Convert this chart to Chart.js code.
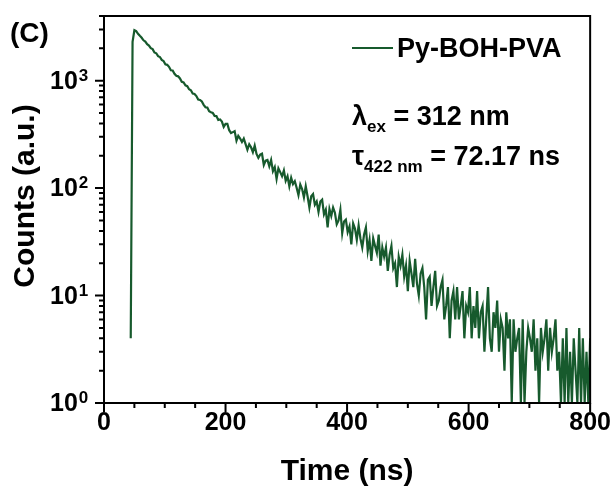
<!DOCTYPE html>
<html>
<head>
    <title>Py-BOH-PVA decay</title>
    <meta charset="UTF-8">
    <style>
        body { margin: 0; padding: 0; background: #fff; }
        #chart-container { width: 616px; height: 493px; }
        canvas { background-color: #fff; }
    </style>
</head>
<body>
    <div id="chart-container">
        <canvas id="decayChart" width="616" height="493"></canvas>
    </div>

    <script src="https://cdn.jsdelivr.net/npm/chart.js"></script>

    <script>
        // time channels (ns)
        const times = [
            44, 47, 50, 53, 56, 59, 62, 65, 68, 71,
            74, 77, 80, 83, 86, 89, 92, 95, 98, 101,
            104, 107, 110, 113, 116, 119, 122, 125, 128, 131,
            134, 137, 140, 143, 146, 149, 152, 155, 158, 161,
            164, 167, 170, 173, 176, 179, 182, 185, 188, 191,
            194, 197, 200, 203, 206, 209, 212, 215, 218, 221,
            224, 227, 230, 233, 236, 239, 242, 245, 248, 251,
            254, 257, 260, 263, 266, 269, 272, 275, 278, 281,
            284, 287, 290, 293, 296, 299, 302, 305, 308, 311,
            314, 317, 320, 323, 326, 329, 332, 335, 338, 341,
            344, 347, 350, 353, 356, 359, 362, 365, 368, 371,
            374, 377, 380, 383, 386, 389, 392, 395, 398, 401,
            404, 407, 410, 413, 416, 419, 422, 425, 428, 431,
            434, 437, 440, 443, 446, 449, 452, 455, 458, 461,
            464, 467, 470, 473, 476, 479, 482, 485, 488, 491,
            494, 497, 500, 503, 506, 509, 512, 515, 518, 521,
            524, 527, 530, 533, 536, 539, 542, 545, 548, 551,
            554, 557, 560, 563, 566, 569, 572, 575, 578, 581,
            584, 587, 590, 593, 596, 599, 602, 605, 608, 611,
            614, 617, 620, 623, 626, 629, 632, 635, 638, 641,
            644, 647, 650, 653, 656, 659, 662, 665, 668, 671,
            674, 677, 680, 683, 686, 689, 692, 695, 698, 701,
            704, 707, 710, 713, 716, 719, 722, 725, 728, 731,
            734, 737, 740, 743, 746, 749, 752, 755, 758, 761,
            764, 767, 770, 773, 776, 779, 782, 785, 788, 791,
            794, 797, 800
        ];

        // counts
        const counts = [
            4, 2300, 2950, 2890, 2730, 2615, 2510, 2375, 2310, 2185,
            2125, 2010, 1965, 1830, 1800, 1690, 1660, 1560, 1525, 1420,
            1405, 1345, 1250, 1245, 1160, 1110, 1098, 1050, 975, 962,
            905, 890, 832, 815, 758, 752, 720, 668, 662, 640,
            596, 566, 562, 520, 509, 502, 470, 468, 431, 436,
            416, 371, 396, 396, 346, 325, 332, 339, 276, 307,
            290, 269, 289, 257, 228, 256, 240, 216, 249, 208,
            191, 205, 209, 164, 180, 183, 160, 183, 144, 157,
            122, 153, 141, 129, 146, 117, 129, 104, 125, 109,
            116, 101, 86, 108, 98, 82, 104, 84, 66, 84,
            88, 70, 75, 60, 75, 78, 57, 63, 43, 64,
            55, 66, 59, 46, 50, 63, 38, 49, 51, 39,
            44, 30, 47, 42, 33, 45, 34, 28, 37, 43,
            26, 33, 21, 34, 29, 25, 37, 19, 28, 23,
            28, 17, 24, 29, 18, 20, 12, 23, 19, 24,
            15, 19, 11, 21, 16, 12, 22, 13, 10, 16,
            18, 12, 6, 14, 15, 8, 12, 17, 8, 9,
            12, 14, 6, 8, 12, 4, 9, 11, 6, 12,
            6, 8, 11, 4, 8, 7, 12, 4, 8, 5,
            11, 4, 7, 8, 3, 6, 12, 4, 3, 7,
            5, 9, 3, 6, 5, 2, 7, 4, 6, 1,
            6, 3, 4, 5, 1, 6, 1, 3, 5, 4,
            3, 6, 2, 4, 1, 5, 3, 4, 6, 2,
            5, 3, 4, 6, 2, 3, 1, 4, 1, 5,
            1, 3, 1, 4, 2, 1, 5, 1, 4, 1,
            3, 1, 4
        ];

        const seriesLabel = 'Py-BOH-PVA';
        const xMajorTicks = [0, 200, 400, 600, 800];
        const xMinorTicks = [50, 100, 150, 250, 300, 350, 450, 500, 550, 650, 700, 750];
        const yDecades = [1, 10, 100, 1000];
        const yMin = 1;
        const yMax = 4000;

        const FONT = 'Arial, "Liberation Sans", sans-serif';
        const GREEN = '#175a2d';

        // frame, tick marks, log labels, legend and notes
        const decor = {
            id: 'decor',
            afterDraw(chart) {
                const { ctx, chartArea: area, scales: { x, y } } = chart;
                ctx.save();
                ctx.strokeStyle = '#000';
                ctx.lineWidth = 2;
                ctx.strokeRect(area.left, area.top, area.right - area.left, area.bottom - area.top);

                ctx.beginPath();
                xMajorTicks.forEach(v => {
                    const px = x.getPixelForValue(v);
                    ctx.moveTo(px, area.bottom);
                    ctx.lineTo(px, area.bottom + 9);
                });
                xMinorTicks.forEach(v => {
                    const px = x.getPixelForValue(v);
                    ctx.moveTo(px, area.bottom);
                    ctx.lineTo(px, area.bottom + 5);
                });
                yDecades.forEach(d => {
                    const py = y.getPixelForValue(d);
                    ctx.moveTo(area.left, py);
                    ctx.lineTo(area.left - 9, py);
                    for (let m = 2; m <= 9; m++) {
                        if (d * m > yMax) break;
                        const pm = y.getPixelForValue(d * m);
                        ctx.moveTo(area.left, pm);
                        ctx.lineTo(area.left - 5, pm);
                    }
                });
                ctx.stroke();

                // y tick labels 10^n
                ctx.fillStyle = '#000';
                ctx.textAlign = 'left';
                ctx.textBaseline = 'alphabetic';
                yDecades.forEach(d => {
                    const py = y.getPixelForValue(d);
                    ctx.font = 'bold 25px ' + FONT;
                    ctx.fillText('10', 50, py + 8);
                    const w = ctx.measureText('10').width;
                    ctx.font = 'bold 17px ' + FONT;
                    ctx.fillText(String(Math.round(Math.log10(d))), 50 + w + 1, py);
                });

                // y title
                ctx.save();
                ctx.translate(26, 196);
                ctx.rotate(-Math.PI / 2);
                ctx.font = 'bold 30px ' + FONT;
                ctx.textAlign = 'center';
                ctx.textBaseline = 'middle';
                ctx.fillText('Counts (a.u.)', 0, 0);
                ctx.restore();

                // panel letter
                ctx.font = 'bold 28px ' + FONT;
                ctx.fillText('(C)', 10, 42);

                // legend
                ctx.strokeStyle = GREEN;
                ctx.lineWidth = 2;
                ctx.beginPath();
                ctx.moveTo(352, 48);
                ctx.lineTo(393, 48);
                ctx.stroke();
                ctx.font = 'bold 27px ' + FONT;
                ctx.fillText(chart.data.datasets[0].label, 397, 57);

                // notes with subscripts
                const note = (parts, x0, base) => {
                    let cx = x0;
                    parts.forEach(([txt, sub]) => {
                        ctx.font = (sub ? 'bold 17px ' : 'bold 27px ') + FONT;
                        ctx.fillText(txt, cx, sub ? base + 7 : base);
                        cx += ctx.measureText(txt).width;
                    });
                };
                note([['λ', false], ['ex', true], [' = 312 nm', false]], 352, 125);
                note([['τ', false], ['422 nm', true], [' = 72.17 ns', false]], 352, 165);

                ctx.restore();
            }
        };

        window.onload = function () {
            const ctx = document.getElementById('decayChart').getContext('2d');
            new Chart(ctx, {
                type: 'line',
                data: {
                    datasets: [{
                        label: seriesLabel,
                        data: times.map((t, i) => ({ x: t, y: counts[i] })),
                        borderColor: GREEN,
                        backgroundColor: GREEN,
                        borderWidth: 2.2,
                        fill: false,
                        tension: 0,
                        pointRadius: 0
                    }]
                },
                options: {
                    responsive: false,
                    animation: false,
                    layout: { padding: { left: 0, right: 25, top: 16, bottom: 0 } },
                    plugins: {
                        legend: { display: false },
                        tooltip: { enabled: false }
                    },
                    scales: {
                        x: {
                            type: 'linear',
                            min: 0,
                            max: 800,
                            grid: { display: false, drawTicks: false },
                            border: { display: false },
                            ticks: {
                                stepSize: 200,
                                padding: 5,
                                maxRotation: 0,
                                autoSkip: false,
                                color: '#000',
                                font: { family: FONT, size: 25, weight: 'bold' }
                            },
                            title: {
                                display: true,
                                text: 'Time (ns)',
                                color: '#000',
                                padding: { top: 0, bottom: 3 },
                                font: { family: FONT, size: 30, weight: 'bold' }
                            },
                            afterFit: s => { s.height = 90; }
                        },
                        y: {
                            type: 'logarithmic',
                            min: yMin,
                            max: yMax,
                            grid: { display: false, drawTicks: false },
                            border: { display: false },
                            ticks: { display: false },
                            afterFit: s => { s.width = 104; }
                        }
                    }
                },
                plugins: [decor]
            });
        };
    </script>
</body>
</html>
